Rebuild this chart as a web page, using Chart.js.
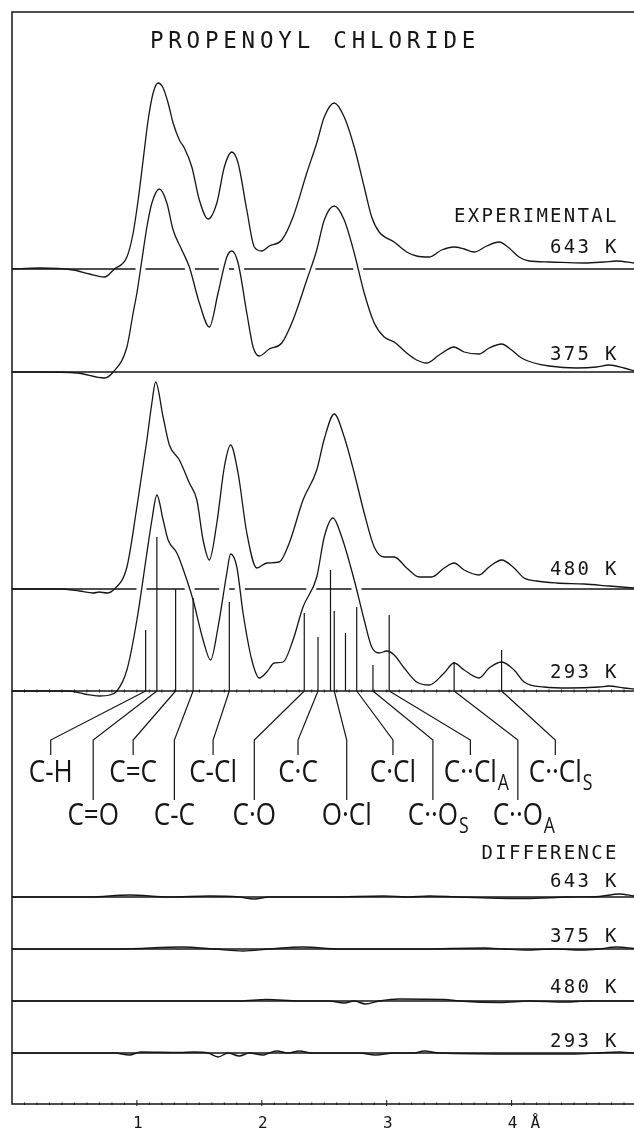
<!DOCTYPE html>
<html lang="en">
<head>
<meta charset="UTF-8">
<title>Propenoyl chloride - radial distribution curves</title>
<script src="https://cdn.jsdelivr.net/npm/chart.js@4.4.1/dist/chart.umd.min.js"></script>
<style>
  html, body { margin: 0; padding: 0; background: #fff; }
  #wrap { width: 634px; height: 1131px; }
</style>
</head>
<body>
<div id="wrap"><canvas id="rdf" width="634" height="1131"></canvas></div>
<script>
// r in Angstrom, curve height above its own baseline (arbitrary units)
const exp643 = [[0,0],[0.22,0.1],[0.49,-0.1],[0.62,-0.5],[0.74,-0.8],[0.82,0],[0.92,1.2],[0.97,3.6],[1.01,6.9],[1.05,10.9],
  [1.09,14.9],[1.13,17.6],[1.17,18.6],[1.21,18.1],[1.25,16.6],[1.29,14.6],[1.34,12.9],[1.38,12.1],[1.44,10.2],[1.50,6.9],
  [1.57,5.0],[1.64,6.6],[1.70,10.2],[1.76,11.7],[1.81,10.6],[1.88,5.9],[1.94,2.2],[2.00,1.8],[2.06,2.3],[2.16,2.9],
  [2.25,5.2],[2.36,9.6],[2.44,12.6],[2.50,15.2],[2.58,16.6],[2.66,15.2],[2.74,12.2],[2.82,8.2],[2.88,5.2],[2.94,3.7],
  [3.06,2.7],[3.16,1.7],[3.24,1.3],[3.34,1.2],[3.44,1.9],[3.54,2.2],[3.62,2.0],[3.70,1.7],[3.80,2.3],[3.90,2.7],
  [3.98,2.1],[4.06,1.2],[4.14,0.8],[4.30,0.7],[4.58,0.6],[4.74,0.7],[4.84,0.8],[4.98,0.6]];

const exp375 = [[0,0],[0.22,0],[0.52,-0.1],[0.74,-0.6],[0.81,0],[0.92,2.5],[0.97,5.9],[1.00,7.9],[1.04,11.2],[1.08,14.5],
  [1.12,16.9],[1.18,18.3],[1.24,16.9],[1.29,14.2],[1.36,12.2],[1.42,10.5],[1.50,6.9],[1.58,4.5],[1.65,7.9],[1.72,11.5],
  [1.76,12.1],[1.81,10.9],[1.88,5.9],[1.93,2.5],[1.98,1.6],[2.06,2.3],[2.16,2.9],[2.25,5.2],[2.36,9.2],[2.44,12.2],
  [2.50,15.2],[2.58,16.6],[2.66,15.2],[2.74,11.9],[2.82,7.9],[2.90,4.9],[2.98,3.5],[3.06,3.0],[3.16,1.9],[3.24,1.2],
  [3.32,0.9],[3.42,1.7],[3.54,2.5],[3.62,2.0],[3.74,1.8],[3.82,2.4],[3.92,2.8],[4.00,2.2],[4.08,1.4],[4.18,0.9],
  [4.30,0.6],[4.52,0.4],[4.68,0.5],[4.78,0.7],[4.90,0.4],[4.98,0.1]];

const exp480 = [[0,0],[0.38,0],[0.54,-0.2],[0.65,-0.4],[0.70,-0.3],[0.76,-0.4],[0.82,0],[0.92,2.2],[1.00,8.2],[1.08,14.9],
  [1.12,18.6],[1.15,20.7],[1.21,17.2],[1.26,14.4],[1.34,12.9],[1.42,10.6],[1.48,8.9],[1.53,4.9],[1.58,2.9],[1.64,6.6],
  [1.70,12.2],[1.75,14.4],[1.81,11.6],[1.88,5.6],[1.96,2.1],[2.04,2.6],[2.14,2.7],[2.22,4.6],[2.33,8.9],[2.44,11.9],
  [2.50,15.0],[2.58,17.5],[2.66,15.2],[2.74,11.6],[2.82,7.6],[2.90,4.2],[2.98,3.2],[3.06,3.2],[3.16,2.1],[3.26,1.2],
  [3.36,1.2],[3.46,2.1],[3.54,2.6],[3.62,1.9],[3.74,1.4],[3.82,2.2],[3.92,2.9],[4.02,2.1],[4.10,1.1],[4.20,0.8],
  [4.36,0.6],[4.58,0.5],[4.78,0.3],[4.98,0.1]];

const exp293 = [[0,0],[0.46,0],[0.58,-0.3],[0.70,-0.5],[0.78,-0.4],[0.84,0],[0.92,2.1],[1.00,7.1],[1.08,13.8],[1.12,17.1],
  [1.16,19.6],[1.21,17.1],[1.25,15.1],[1.32,13.8],[1.40,11.1],[1.45,9.1],[1.53,5.1],[1.59,3.1],[1.65,6.4],[1.72,11.8],
  [1.75,13.7],[1.80,12.4],[1.85,7.8],[1.92,3.1],[1.98,1.3],[2.04,1.9],[2.10,2.8],[2.17,2.9],[2.25,5.1],[2.33,8.4],
  [2.44,11.4],[2.50,15.4],[2.57,17.3],[2.64,15.4],[2.74,11.1],[2.82,7.1],[2.88,4.4],[2.94,3.8],[3.00,4.0],[3.06,3.6],
  [3.14,2.3],[3.24,0.9],[3.34,0.6],[3.46,1.8],[3.54,2.8],[3.62,2.1],[3.74,1.3],[3.82,2.3],[3.92,2.9],[4.02,2.1],
  [4.10,0.9],[4.26,0.4],[4.46,0.3],[4.70,0.4],[4.78,0.5],[4.90,0.3],[4.98,0.2]];

// distance sticks under the 293 K curve: [r, relative weight]
const sticks = [[1.07,6.1],[1.16,15.4],[1.31,10.2],[1.45,9.3],[1.74,8.9],[2.34,7.8],[2.45,5.4],[2.55,12.1],
  [2.58,8.0],[2.67,5.8],[2.76,8.4],[2.89,2.6],[3.02,7.6],[3.54,2.9],[3.92,4.1]];

const bondText = ['C-H','C=O','C=C','C-C','C-Cl','C·O','C·C','O·Cl','C·Cl','C··O','C··Cl','C··O','C··Cl'];
const bondSub = ['','','','','','','','','','S','A','A','S'];
const bondStick = [0,1,2,3,4,5,6,8,10,11,12,13,14];

// difference curves (experimental minus theoretical)
const diff643 = [[0,0],[0.62,0],[0.94,0.2],[1.26,0],[1.58,0.1],[1.82,0],[1.94,-0.2],[2.06,0],[2.54,0],[2.98,0.1],
  [3.18,0],[3.34,0.1],[3.58,0],[4.11,-0.15],[4.46,0],[4.70,0.05],[4.86,0.3],[4.98,0.1]];
const diff375 = [[0,0],[0.86,0],[1.36,0.2],[1.62,0],[1.85,-0.2],[2.06,0],[2.33,0.2],[2.62,0],[3.26,0],[3.78,0.1],
  [3.94,0],[4.11,-0.1],[4.34,0],[4.56,-0.1],[4.70,0],[4.84,0.2],[4.98,0.05]];
const diff480 = [[0,0],[1.82,0],[2.04,0.15],[2.30,0],[2.54,0],[2.66,-0.2],[2.74,0],[2.83,-0.3],[2.94,0],[3.10,0.2],
  [3.46,0.15],[3.58,0],[3.91,-0.15],[4.14,0],[4.43,-0.1],[4.62,0],[4.98,0]];
const diff293 = [[0,0],[0.82,0],[0.94,-0.2],[1.03,0.1],[1.34,0.05],[1.46,0.1],[1.57,0],[1.65,-0.4],[1.73,0],[1.82,-0.3],
  [1.90,0],[2.01,-0.2],[2.06,0],[2.12,0.2],[2.21,0],[2.30,0.2],[2.40,0],[2.78,0],[2.91,-0.2],[3.06,0],
  [3.22,0],[3.30,0.2],[3.42,0],[4.11,-0.1],[4.50,-0.1],[4.70,0],[4.86,0.1],[4.98,0]];

const xTicks = [1, 2, 3, 4];
const xTickText = ['1', '2', '3', '4'];
const unitText = 'Å';
const titleText = 'PROPENOYL CHLORIDE';
const sideText = ['EXPERIMENTAL','643 K','375 K','480 K','293 K','DIFFERENCE','643 K','375 K','480 K','293 K'];

// ---- layout (chart units) ----
const xMax = 4.98, yMax = 109.2;
const off = { e643: 83.5, e375: 73.2, e480: 51.5, e293: 41.3, d643: 20.7, d375: 15.5, d480: 10.3, d293: 5.1 };
const sideTextY = [88.2, 85.1, 74.4, 52.9, 42.6, 24.5, 21.7, 16.2, 11.1, 5.7];
const bondAnchor = [0.31,0.65,0.97,1.30,1.61,1.94,2.29,2.68,3.05,3.37,3.67,4.05,4.35];
const lead = { diag: 36.4, upEnd: 34.9, lowEnd: 30.4, upText: 32.2, lowText: 27.9 };
const gapHalf = 0.04;

const ink = '#161616';
const plotFont = '"DejaVu Sans Mono", monospace';
const bondFont = '"Open Sans", "Liberation Sans", sans-serif';

const shift = (pairs, o) => pairs.map(p => ({ x: p[0], y: p[1] + o }));

// where a curve crosses the baseline above it: the plotter left a gap there
function crossings(pairs, o, level) {
  const out = [];
  for (let i = 1; i < pairs.length; i++) {
    const a = pairs[i - 1][1] + o - level, b = pairs[i][1] + o - level;
    if ((a < 0) !== (b < 0)) {
      const t = a / (a - b);
      out.push(pairs[i - 1][0] + t * (pairs[i][0] - pairs[i - 1][0]));
    }
  }
  return out;
}

function baseline(level, cuts) {
  const pts = [{ x: 0, y: level }];
  (cuts || []).forEach(c => {
    pts.push({ x: c - gapHalf, y: level }, { x: c, y: null }, { x: c + gapHalf, y: level });
  });
  pts.push({ x: xMax, y: level });
  return pts;
}

const stickPts = [];
sticks.forEach(s => {
  stickPts.push({ x: s[0], y: off.e293 }, { x: s[0], y: off.e293 + s[1] }, { x: s[0], y: null });
});

const leaderPts = [];
bondStick.forEach((si, i) => {
  const ax = bondAnchor[i];
  leaderPts.push({ x: sticks[si][0], y: off.e293 }, { x: ax, y: lead.diag },
    { x: ax, y: i % 2 ? lead.lowEnd : lead.upEnd }, { x: ax, y: null });
});

const curve = (data, w) => ({
  data, borderColor: ink, borderWidth: w || 1.3, pointRadius: 0,
  cubicInterpolationMode: 'monotone', fill: false
});
const straight = (data, w) => ({
  data, borderColor: ink, borderWidth: w || 1.3, pointRadius: 0, tension: 0, fill: false, spanGaps: false
});

const datasets = [
  curve(shift(exp643, off.e643)),
  curve(shift(exp375, off.e375)),
  curve(shift(exp480, off.e480)),
  curve(shift(exp293, off.e293)),
  straight(baseline(off.e643, crossings(exp375, off.e375, off.e643)), 1.4),
  straight(baseline(off.e375), 1.6),
  straight(baseline(off.e480, crossings(exp293, off.e293, off.e480)), 1.4),
  straight(baseline(off.e293), 1.6),
  straight(stickPts, 1.2),
  straight(leaderPts, 1.2),
  straight(baseline(off.d643), 1.6), curve(shift(diff643, off.d643), 1.4),
  straight(baseline(off.d375), 1.6), curve(shift(diff375, off.d375), 1.4),
  straight(baseline(off.d480), 1.6), curve(shift(diff480, off.d480), 1.4),
  straight(baseline(off.d293), 1.6), curve(shift(diff293, off.d293), 1.4)
];

function plotText(ctx, str, px, py, size, spacing, align) {
  ctx.font = size + 'px ' + plotFont;
  ctx.letterSpacing = spacing + 'px';
  ctx.textAlign = align;
  ctx.textBaseline = 'alphabetic';
  ctx.fillText(str, px, py);
}

const decor = {
  id: 'decor',
  afterDatasetsDraw(chart) {
    const { ctx, chartArea: a, scales: { x, y } } = chart;
    ctx.save();
    ctx.strokeStyle = ink;
    ctx.fillStyle = ink;
    ctx.lineWidth = 1.5;
    // frame: top, left and bottom axis
    ctx.beginPath();
    ctx.moveTo(a.right, a.top); ctx.lineTo(a.left, a.top);
    ctx.lineTo(a.left, a.bottom); ctx.lineTo(a.right, a.bottom);
    ctx.stroke();

    // small ticks every 0.1 A on the axis and on the 293 K baseline
    const y293 = y.getPixelForValue(off.e293);
    ctx.lineWidth = 1;
    ctx.beginPath();
    for (let i = 1; i < xMax * 10; i++) {
      const px = x.getPixelForValue(i / 10);
      const major = i % 10 === 0;
      ctx.moveTo(px, a.bottom - (major ? 4 : 1.5)); ctx.lineTo(px, a.bottom + (major ? 2 : 1));
      ctx.moveTo(px, y293 - 1.5); ctx.lineTo(px, y293 + 1.5);
    }
    ctx.stroke();

    // tick labels
    xTicks.forEach((v, i) => plotText(ctx, xTickText[i], x.getPixelForValue(v) + 1, y.getPixelForValue(-2.4), 16, 0, 'center'));
    plotText(ctx, unitText, x.getPixelForValue(4.19), y.getPixelForValue(-2.4), 16, 0, 'center');

    // title and side labels
    plotText(ctx, titleText, x.getPixelForValue(2.41) + 2, y.getPixelForValue(105.6), 22.5, 4.8, 'center');
    sideText.forEach((t, i) => plotText(ctx, t, x.getPixelForValue(4.84) + 2.3, y.getPixelForValue(sideTextY[i]), 19, 2.3, 'right'));

    // bond labels under the sticks
    ctx.letterSpacing = '0px';
    ctx.textAlign = 'left';
    const sx = 0.84;
    bondText.forEach((t, i) => {
      ctx.font = '31px ' + bondFont;
      const w = ctx.measureText(t).width;
      const px = x.getPixelForValue(bondAnchor[i]);
      const py = y.getPixelForValue(i % 2 ? lead.lowText : lead.upText);
      ctx.save();
      ctx.translate(px - w * sx / 2, py);
      ctx.scale(sx, 1);
      ctx.fillText(t, 0, 0);
      if (bondSub[i]) {
        ctx.font = '21px ' + bondFont;
        ctx.fillText(bondSub[i], w + 1, 8);
      }
      ctx.restore();
    });
    ctx.restore();
  }
};

new Chart(document.getElementById('rdf'), {
  type: 'line',
  data: { datasets },
  options: {
    responsive: false,
    animation: false,
    devicePixelRatio: 1,
    layout: { padding: { left: 12, top: 12, right: 0, bottom: 27 } },
    plugins: { legend: { display: false }, tooltip: { enabled: false } },
    scales: {
      x: { type: 'linear', min: 0, max: xMax, display: false },
      y: { type: 'linear', min: 0, max: yMax, display: false }
    }
  },
  plugins: [decor]
});
</script>
</body>
</html>
